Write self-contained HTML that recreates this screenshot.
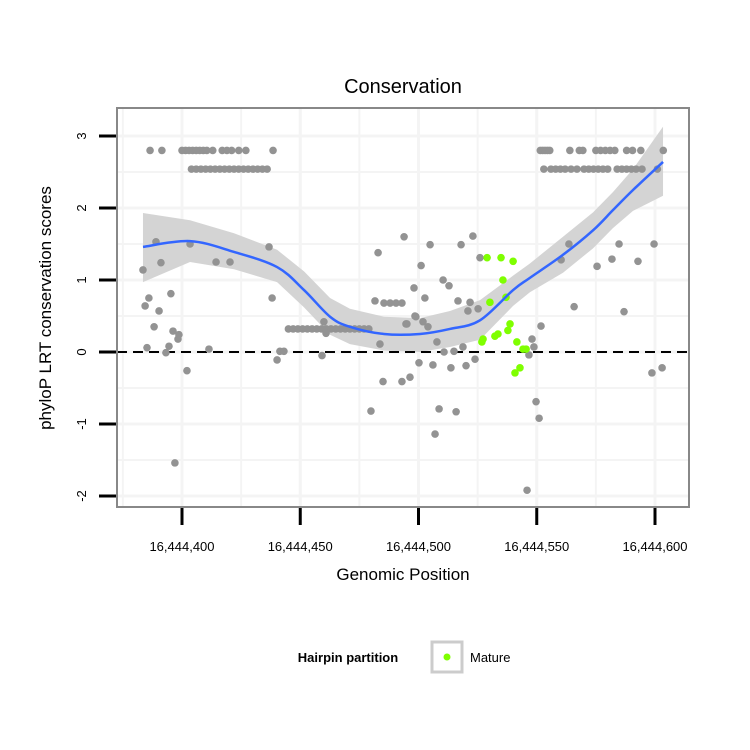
<!DOCTYPE html>
<html><head><meta charset="utf-8"><style>
body{margin:0;background:#fff;}
svg{display:block;font-family:"Liberation Sans",sans-serif;}
</style></head><body>
<svg id="chart" width="750" height="750">
<rect width="750" height="750" fill="#fff"/>
<text x="403" y="93" font-size="20" text-anchor="middle">Conservation</text>
<g id="grid"></g>
<g id="band"></g>
<line x1="117" x2="689" id="zero" stroke="#000" stroke-width="2" stroke-dasharray="10,6"/>
<g id="pts"></g>
<g id="fit"></g>
<rect x="117" y="108" width="572" height="399" fill="none" stroke="#888" stroke-width="2"/>
<g id="axes"></g>
<text x="403" y="580" font-size="17" text-anchor="middle">Genomic Position</text>
<text transform="translate(51,308) rotate(-90)" font-size="17" text-anchor="middle">phyloP LRT conservation scores</text>
<g>
<text x="348" y="662" font-size="13" font-weight="bold" text-anchor="middle">Hairpin partition</text>
<rect x="432" y="642" width="30" height="30" fill="#fff" stroke="#ccc" stroke-width="3"/>
<circle cx="447" cy="657" r="3.5" fill="#7fff00"/>
<text x="470" y="662" font-size="13">Mature</text>
</g>
</svg>
<script>
const BASE = 16444400;
const xTicks = [0, 50, 100, 150, 200];
const xTickLabels = ["16,444,400","16,444,450","16,444,500","16,444,550","16,444,600"];
const yTicks = [-2, -1, 0, 1, 2, 3];
const yTickLabels = ["-2","-1","0","1","2","3"];
const topRowPos = [-13.5,-8.5,0,1.5,3,4.5,6,7.5,9,10.5,13,17,19,21,24,27,38.5,151.5,152.5,153.5,154.5,155.5,164,168,169.5,175,177,179,181,183,188,190.5,194,203.5];
const topRowVal = 2.8;
const secRowPos = [4,6,8,10,12,14,16,18,20,22,24,26,28,30,32,34,36,153,156,158,160,162,164.5,167,170,172,174,176,178,180,184,186,188,190,192,194.5,201];
const secRowVal = 2.54;
const bandPos = [45,47,49,51,53,55,57,59,61,63,65,67,69,71,73,75,77,79];
const bandVal = 0.32;
const otherPos = [-16.5,-11,-8.9,-15.6,-14,-9.7,-4.7,-11.8,-3.8,-1.3,-1.7,-14.8,-5.5,-6.8,2.1,-3,3.4,11.4,14.4,20.3,36.8,38.1,40.2,41.4,43.1,59.2,60,60.9,79.9,83.7,82.9,93.9,81.6,85.4,88,90.5,93,94.7,98.1,98.5,85,93,96.4,104.9,118,123,126,101.1,110.4,112.9,102.7,116.7,121.8,120.9,125.2,98.9,101.9,104,95.1,107.8,110.8,115,118.8,123.9,120.1,113.7,106.1,100.2,108.7,115.9,107,151.8,148,148.8,146.7,149.7,151,145.9,163.6,160.3,165.8,175.5,181.8,184.8,192.8,186.9,199.6,198.7,203];
const otherVal = [1.14,1.53,1.24,0.64,0.75,0.57,0.81,0.35,0.29,0.24,0.18,0.06,0.08,-0.01,-0.26,-1.54,1.5,0.04,1.25,1.25,1.46,0.75,-0.11,0.01,0.01,-0.05,0.42,0.26,-0.82,0.11,1.38,1.6,0.71,0.68,0.68,0.68,0.68,0.39,0.89,0.5,-0.41,-0.41,-0.35,1.49,1.49,1.61,1.31,1.2,1.0,0.92,0.75,0.71,0.69,0.57,0.6,0.49,0.42,0.35,0.39,0.14,0.0,0.01,0.07,-0.1,-0.19,-0.22,-0.18,-0.15,-0.79,-0.83,-1.14,0.36,0.18,0.07,-0.04,-0.69,-0.92,-1.92,1.5,1.28,0.63,1.19,1.29,1.5,1.26,0.56,1.5,-0.29,-0.22];
const maturePos = [129,134.9,140,135.7,130.2,137,138.7,137.8,132.3,133.6,127.3,126.8,141.6,144.2,145.5,142.9,140.8];
const matureVal = [1.31,1.31,1.26,1.0,0.69,0.76,0.39,0.3,0.22,0.25,0.18,0.14,0.14,0.04,0.04,-0.22,-0.29];
const fitPos = [-16.5,3.4,22,40.2,51.6,62.6,71,85.4,100.6,113.3,126,140,147.1,161.1,173.8,182.2,190.7,203.4];
const fitVal = [1.46,1.54,1.39,1.18,0.86,0.49,0.35,0.25,0.25,0.32,0.44,0.86,1.03,1.35,1.69,1.97,2.25,2.64];
const fitUpper = [1.93,1.83,1.65,1.42,1.12,0.75,0.6,0.49,0.47,0.57,0.72,1.06,1.23,1.6,1.94,2.22,2.54,3.13];
const fitLower = [0.97,1.25,1.15,0.97,0.62,0.24,0.11,0.02,0.0,0.07,0.17,0.64,0.83,1.1,1.44,1.72,1.96,2.17];

const NS='http://www.w3.org/2000/svg';
const X = v => 182 + v*2.365;
const Y = v => 352 - v*72;
function mk(parent, tag, attrs){const e=document.createElementNS(NS,tag);for(const k in attrs)e.setAttribute(k,attrs[k]);document.getElementById(parent).appendChild(e);return e;}

document.getElementById('zero').setAttribute('y1',Y(0));
document.getElementById('zero').setAttribute('y2',Y(0));

// grid
const minorX=[-25,25,75,125,175,225];
xTicks.concat(minorX).forEach(t=>{const x=X(t); if(x<=117||x>=689)return;
 const l=mk('grid','line',{x1:x,x2:x,y1:108,y2:507,stroke:'#f4f4f4','stroke-width':xTicks.includes(t)?3:2});
 
 });
[-2.5,-1.5,-0.5,0.5,1.5,2.5].concat(yTicks).forEach(t=>{const y=Y(t); if(y<=108||y>=507)return;
 const l=mk('grid','line',{x1:117,x2:689,y1:y,y2:y,stroke:'#f4f4f4','stroke-width':yTicks.includes(t)?3:2});
 
 });

// band
let d='M'+fitPos.map((p,i)=>X(p)+','+Y(fitUpper[i])).join(' L');
for(let i=fitPos.length-1;i>=0;i--) d+=' L'+X(fitPos[i])+','+Y(fitLower[i]);
const bp=mk('band','path',{d:d+'Z',fill:'#d4d4d4'});



function pts(pos, vals, color, name){pos.forEach((p,i)=>{const v=Array.isArray(vals)?vals[i]:vals;
 const c=mk('pts','circle',{cx:X(p),cy:Y(v),r:3.8,fill:color});
 
 });}
pts(topRowPos, topRowVal, '#939393', 'point');
pts(secRowPos, secRowVal, '#939393', 'point');
pts(bandPos, bandVal, '#939393', 'point');
pts(otherPos, otherVal, '#939393', 'point');
pts(maturePos, matureVal, '#7fff00', 'mature-point');

// smooth fit via Catmull-Rom
const P=fitPos.map((p,i)=>[X(p),Y(fitVal[i])]);
let fd='M'+P[0][0]+','+P[0][1];
for(let i=0;i<P.length-1;i++){const p0=P[i-1]||P[i],p1=P[i],p2=P[i+1],p3=P[i+2]||P[i+1];
 fd+=' C'+(p1[0]+(p2[0]-p0[0])/6)+','+(p1[1]+(p2[1]-p0[1])/6)+' '+(p2[0]-(p3[0]-p1[0])/6)+','+(p2[1]-(p3[1]-p1[1])/6)+' '+p2[0]+','+p2[1];}
const fl=mk('fit','path',{d:fd,fill:'none',stroke:'#3366ff','stroke-width':2.5});



// axes
yTicks.forEach((t,i)=>{const y=Y(t);
 const l=mk('axes','line',{x1:99,x2:116,y1:y,y2:y,stroke:'#000','stroke-width':3});
 
 
 const tx=mk('axes','text',{transform:'translate(86,'+y+') rotate(-90)','font-size':13,'text-anchor':'middle'});
 tx.textContent=yTickLabels[i];
 
 });
xTicks.forEach((t,i)=>{const x=X(t);
 const l=mk('axes','line',{x1:x,x2:x,y1:508,y2:525,stroke:'#000','stroke-width':3});
 
 
 const tx=mk('axes','text',{x:x,y:551,'font-size':13,'text-anchor':'middle'});
 tx.textContent=xTickLabels[i];
 
 });
</script>
</body></html>
